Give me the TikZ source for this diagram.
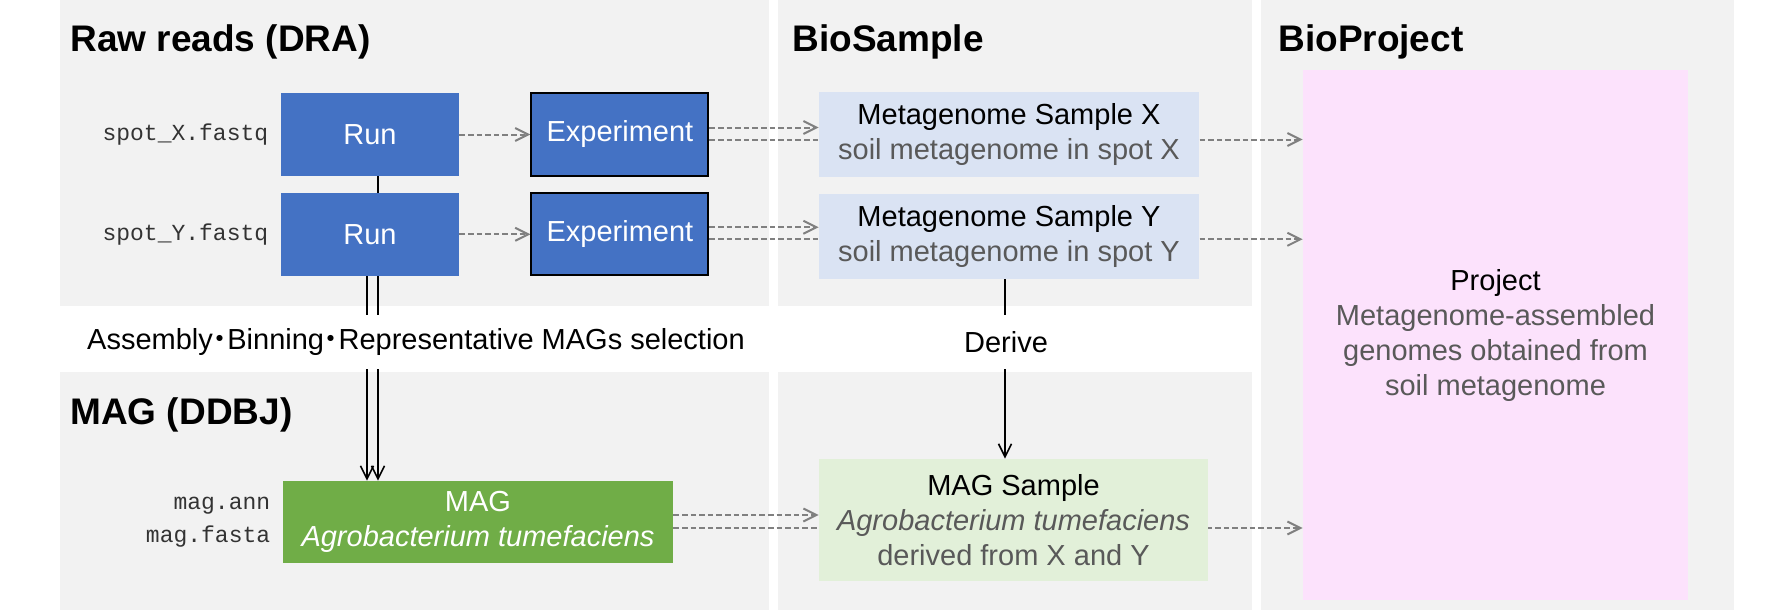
\documentclass[tikz,border=0pt]{standalone}
\usepackage{fontspec}
\setmainfont{Liberation Sans}
\setmonofont{Liberation Mono}
\newfontfamily\cjk[RawFeature=+halt]{Noto Sans CJK JP}
\usetikzlibrary{arrows.meta, positioning}
\definecolor{panelgray}{HTML}{F2F2F2}
\definecolor{runblue}{HTML}{4472C4}
\definecolor{maggreen}{HTML}{70AD47}
\definecolor{sampblue}{HTML}{DAE3F3}
\definecolor{sampgreen}{HTML}{E2F0D9}
\definecolor{projpink}{HTML}{FCE2FC}
\definecolor{subgray}{HTML}{595959}
\definecolor{linkgray}{HTML}{808080}
\pgfdeclarelayer{panel}
\pgfdeclarelayer{link}
\pgfsetlayers{panel,link,main}

\begin{document}
\begin{tikzpicture}[x=0.5pt, y=-0.5pt, >={Straight Barb[length=6.5pt,width=6.5pt]}]
 % We define the styles for the boxes, the labels and the links
 \tikzset{
block/.style = {rectangle, inner sep=0pt, align=center, font=\fontsize{14.5}{17.5}\selectfont},
runbox/.style = {block, fill=runblue, text=white, minimum width=89pt, minimum height=41.5pt},
expbox/.style = {runbox, draw=black, line width=1pt, minimum width=88.5pt, minimum height=41pt},
sampbox/.style = {block, fill=sampblue, minimum width=190pt, minimum height=42.5pt},
magbox/.style = {block, fill=maggreen, text=white, minimum width=195pt, minimum height=41pt},
magsampbox/.style = {block, fill=sampgreen, minimum width=194.5pt, minimum height=61pt},
projbox/.style = {block, fill=projpink, minimum width=192.5pt, minimum height=265pt},
heading/.style = {anchor=base west, inner sep=0pt, font=\fontsize{18.5}{22}\selectfont\bfseries},
file/.style = {inner sep=0pt, align=right, text=black!80, font=\fontsize{11.5}{16.5}\selectfont\ttfamily},
band/.style = {block, fill=white, minimum height=27pt, inner xsep=2pt},
ref/.style = {draw=linkgray, line width=1pt, dash pattern=on 2.8pt off 1.5pt, ->},
flow/.style = {draw=black, line width=0.8pt, ->},
}
 \useasboundingbox (0,0) rectangle (1770,610);

 % Gray panels
 \begin{pgfonlayer}{panel}
 \fill[panelgray] (60,0) rectangle (769,306);
 \fill[panelgray] (778,0) rectangle (1252,306);
 \fill[panelgray] (60,372) rectangle (769,610);
 \fill[panelgray] (778,372) rectangle (1252,610);
 \fill[panelgray] (1261,0) rectangle (1734,610);
 \end{pgfonlayer}

 % Panel titles
 \node[heading] (draTitle) at (70,52) {Raw reads (DRA)};
 \node[heading] (bsTitle) at (792,52) {BioSample};
 \node[heading] (bpTitle) at (1278,52) {BioProject};
 \node[heading] (magTitle) at (70,424) {MAG (DDBJ)};

 % Raw reads blocks
 \node[runbox] (runX) at (370,134.5) {Run};
 \node[runbox, below=8pt of runX] (runY) {Run};
 \node[expbox, right=35.5pt of runX] (expX) {Experiment};
 \node[expbox, right=35.5pt of runY] (expY) {Experiment};
 \node[file, left=6pt of runX] (fastqX) {spot\_X.fastq};
 \node[file, left=6pt of runY] (fastqY) {spot\_Y.fastq};

 % BioSample blocks
 \node[sampbox] (sampX) at (1009,134.5) {Metagenome Sample X\\\textcolor{subgray}{soil metagenome in spot X}};
 \node[sampbox, below=8pt of sampX] (sampY) {Metagenome Sample Y\\\textcolor{subgray}{soil metagenome in spot Y}};

 % MAG blocks
 \node[magbox] (mag) at (478,522) {MAG\\\textit{Agrobacterium tumefaciens}};
 \node[file, left=6pt of mag] (magFiles) {mag.ann\\mag.fasta};
 \node[magsampbox] (magSamp) at (1013.5,520) {MAG Sample\\\textcolor{subgray}{\textit{Agrobacterium tumefaciens}}\\\textcolor{subgray}{derived from X and Y}};

 % BioProject block
 \node[projbox] (project) at (1495.5,335) {Project\\\textcolor{subgray}{Metagenome-assembled}\\\textcolor{subgray}{genomes obtained from}\\\textcolor{subgray}{soil metagenome}};

 % Steps between the panels
 \node[band] (assembly) at (416,342) {Assembly{\cjk ・}Binning{\cjk ・}Representative MAGs selection};
 \node[band] (derive) at (1006,342) {Derive};

 % Links
 \begin{pgfonlayer}{link}
 \draw[ref] (runX) -- (expX);
 \draw[ref] (runY) -- (expY);
 \draw[ref] ([yshift=3.5pt]expX.east) coordinate (eX1) -- (eX1 -| sampX.west);
 \draw[ref] ([yshift=-2.5pt]expX.east) coordinate (eX2) -- (eX2 -| project.west);
 \draw[ref] ([yshift=3.5pt]expY.east) coordinate (eY1) -- (eY1 -| sampY.west);
 \draw[ref] ([yshift=-2.5pt]expY.east) coordinate (eY2) -- (eY2 -| project.west);
 \draw[ref] ([yshift=3.5pt]mag.east) coordinate (m1) -- (m1 -| magSamp.west);
 \draw[ref] ([yshift=-3pt]mag.east) coordinate (m2) -- (m2 -| project.west);
 % runs down to the MAG, sample down to the MAG sample
 \draw[flow] ([xshift=4pt]runX.south) coordinate (r1) -- (r1 |- mag.north);
 \draw[flow] ([xshift=-1.5pt]runY.south) coordinate (r2) -- (r2 |- mag.north);
 \draw[flow] ([xshift=-2pt]sampY.south) coordinate (s1) -- (s1 |- magSamp.north);
 \end{pgfonlayer}

\end{tikzpicture}
\end{document}
